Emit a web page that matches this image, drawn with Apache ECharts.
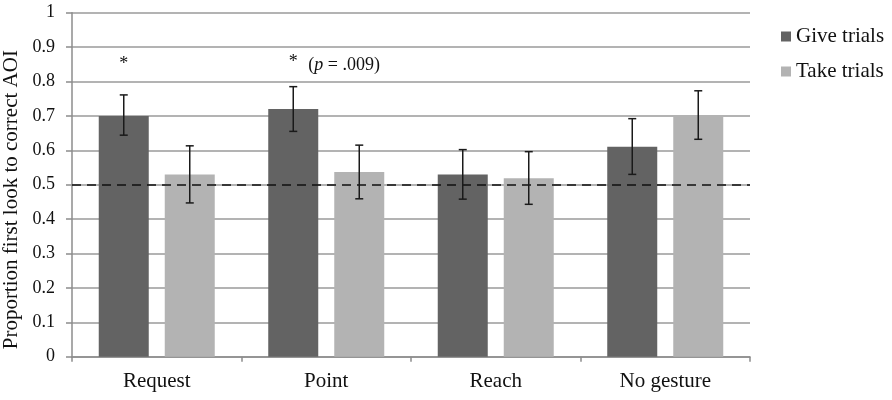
<!DOCTYPE html>
<html>
<head>
<meta charset="utf-8">
<script src="https://cdn.jsdelivr.net/npm/echarts@6/dist/echarts.min.js"></script>
<style>html,body{margin:0;padding:0;background:#fff}#c{width:892px;height:400px}</style>
</head>
<body>
<div id="c"></div>
<script>
const categories = ['Request', 'Point', 'Reach', 'No gesture'];
const seriesNames = ['Give trials', 'Take trials'];
const giveValues = [0.70, 0.72, 0.53, 0.61];
const takeValues = [0.53, 0.537, 0.519, 0.70];
const giveLow = [0.644, 0.655, 0.458, 0.530];
const giveHigh = [0.761, 0.785, 0.602, 0.692];
const takeLow = [0.447, 0.459, 0.443, 0.632];
const takeHigh = [0.613, 0.615, 0.596, 0.773];
const chanceLevel = 0.5;
const yTicks = [0, 0.1, 0.2, 0.3, 0.4, 0.5, 0.6, 0.7, 0.8, 0.9, 1];

const FONT = '"Liberation Serif", "Times New Roman", serif';
const BAR_W = 0.295, BAR_GAP = 0.32;
const offsetFrac = BAR_W * (1 + BAR_GAP) / 2;

function errRender(sign) {
  return function (params, api) {
    const idx = api.value(0);
    const lo = api.coord([idx, api.value(1)]);
    const hi = api.coord([idx, api.value(2)]);
    const band = api.size([1, 0])[0];
    const x = lo[0] + sign * band * offsetFrac;
    const cap = 4;
    const style = { stroke: '#1a1a1a', lineWidth: 1.5 };
    return {
      type: 'group',
      children: [
        { type: 'line', shape: { x1: x, y1: lo[1], x2: x, y2: hi[1] }, style },
        { type: 'line', shape: { x1: x - cap, y1: lo[1], x2: x + cap, y2: lo[1] }, style },
        { type: 'line', shape: { x1: x - cap, y1: hi[1], x2: x + cap, y2: hi[1] }, style }
      ]
    };
  };
}

const chart = echarts.init(document.getElementById('c'), null, { renderer: 'canvas' });
chart.setOption({
  animation: false,
  textStyle: { fontFamily: FONT },
  grid: { left: 72, right: 142, top: 12.7, bottom: 43.3, outerBoundsMode: 'none', containLabel: false },
  legend: {
    orient: 'vertical', left: 776, top: 21, itemWidth: 10, itemHeight: 10, itemGap: 14,
    icon: 'rect',
    data: seriesNames,
    textStyle: { fontFamily: FONT, fontSize: 21, color: '#111', padding: [0, 0, 0, 0] }
  },
  xAxis: {
    type: 'category', data: categories,
    axisLine: { lineStyle: { color: '#8c8c8c', width: 1.5 } },
    axisTick: { show: true, length: 5, lineStyle: { color: '#8c8c8c', width: 1.5 } },
    axisLabel: { fontFamily: FONT, fontSize: 21, color: '#111', margin: 14 }
  },
  yAxis: {
    type: 'value', min: 0, max: 1, interval: 0.1,
    name: 'Proportion first look to correct AOI', nameLocation: 'middle', nameGap: 44,
    nameTextStyle: { fontFamily: FONT, fontSize: 21, color: '#111', padding: [0, 30, 0, 0] },
    axisLine: { show: true, lineStyle: { color: '#8c8c8c', width: 1.5 } },
    axisTick: { show: true, length: 6, lineStyle: { color: '#8c8c8c', width: 1.5 } },
    splitLine: { lineStyle: { color: '#9a9a9a', width: 1.5 } },
    axisLabel: {
      fontFamily: FONT, fontSize: 18, color: '#111', margin: 17,
      formatter: v => { const t = yTicks.find(k => Math.abs(k - v) < 1e-9); return t === undefined ? '' : String(t); }
    }
  },
  series: [
    {
      name: seriesNames[0], type: 'bar', data: giveValues, barWidth: (BAR_W * 100) + '%', barGap: (BAR_GAP * 100) + '%',
      itemStyle: { color: '#636363' },
      markLine: {
        silent: true, symbol: 'none', label: { show: false },
        lineStyle: { type: [9, 6], color: '#111', width: 1.5 },
        data: [{ yAxis: chanceLevel }]
      },
      markPoint: {
        symbol: 'circle', symbolSize: 0,
        label: { show: true, fontFamily: FONT, color: '#111', fontSize: 18 },
        data: [
          { coord: [0, 0.85], label: { formatter: '*', position: 'inside' } },
          { coord: [1, 0.855], label: { formatter: '*', position: 'inside' } },
          { coord: [1, 0.846], label: {
              position: 'inside', align: 'left', offset: [15, 0], fontSize: 18,
              formatter: '({i|p} = .009)',
              rich: { i: { fontStyle: 'italic', fontFamily: FONT, fontSize: 18, color: '#111' } }
            } }
        ]
      }
    },
    {
      name: seriesNames[1], type: 'bar', data: takeValues, barWidth: (BAR_W * 100) + '%', barGap: (BAR_GAP * 100) + '%',
      itemStyle: { color: '#b3b3b3' }
    },
    {
      type: 'custom', renderItem: errRender(-1), z: 5,
      data: categories.map((c, i) => [i, giveLow[i], giveHigh[i]])
    },
    {
      type: 'custom', renderItem: errRender(1), z: 5,
      data: categories.map((c, i) => [i, takeLow[i], takeHigh[i]])
    }
  ]
});
</script>
</body>
</html>
